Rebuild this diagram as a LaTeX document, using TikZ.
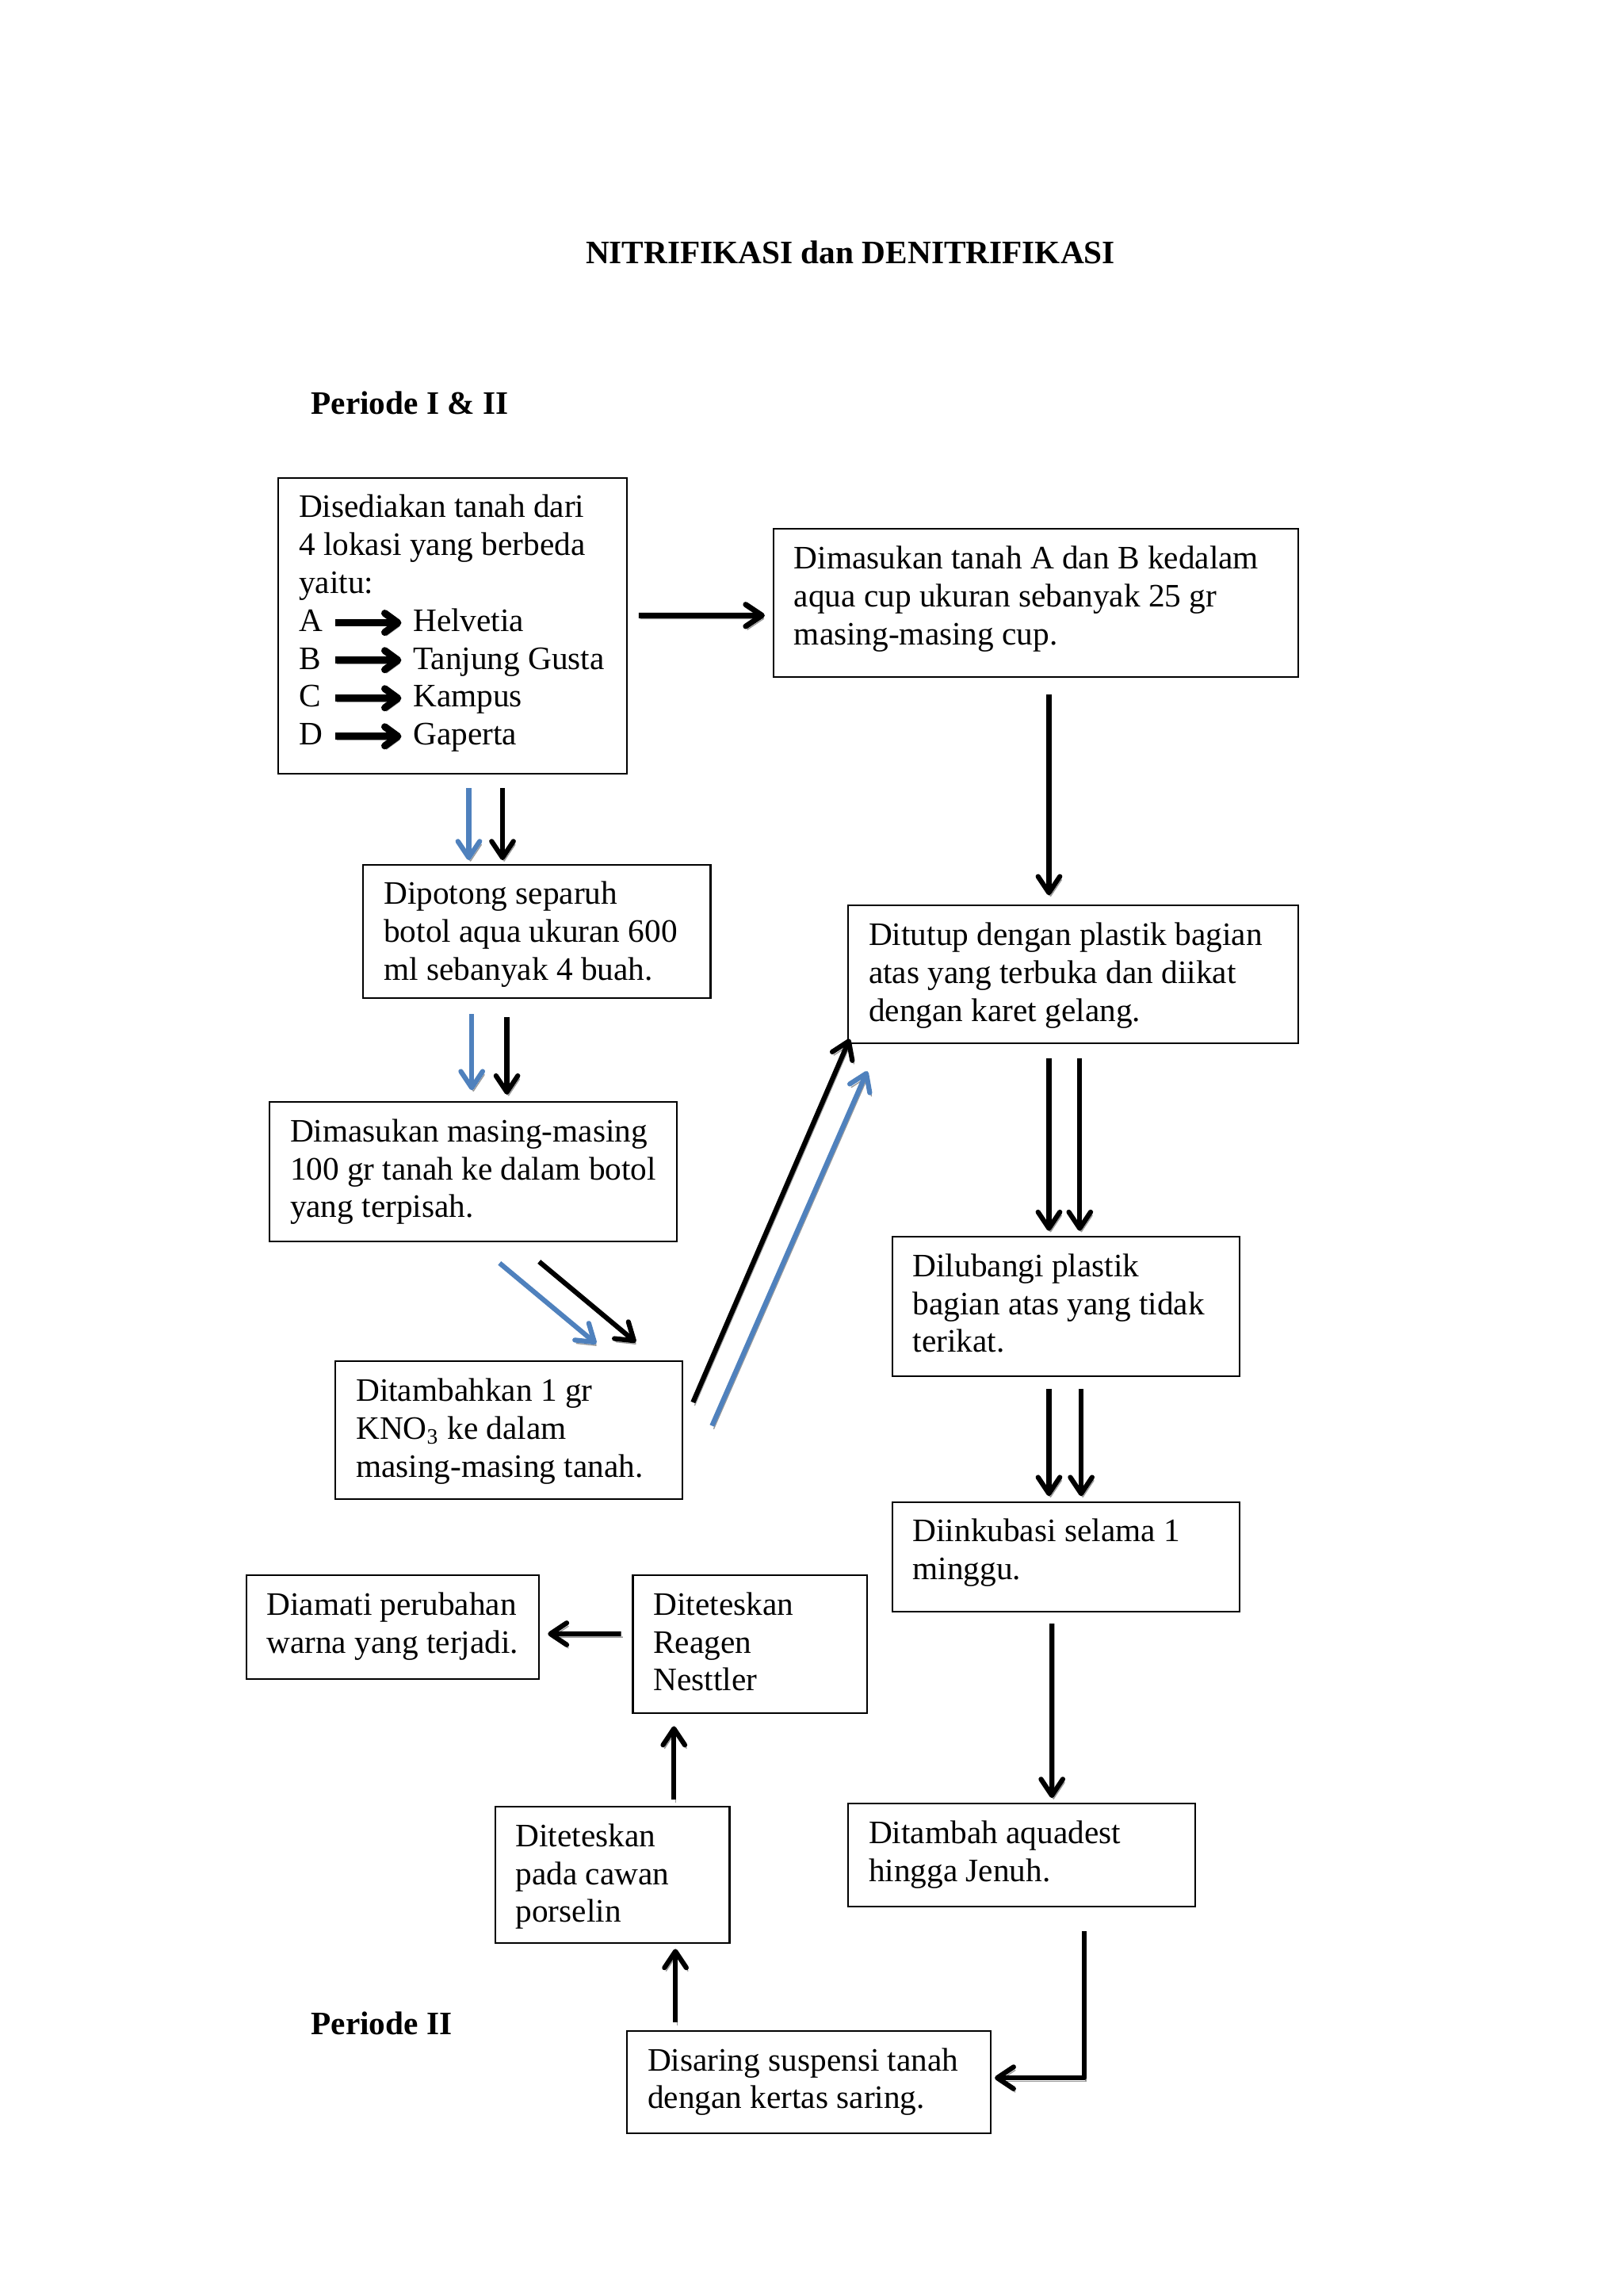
\documentclass[tikz,border=0pt]{standalone}
\usepackage{fontspec}
\setmainfont{Liberation Serif}
\usetikzlibrary{arrows.meta}
\newlength{\pxu}\setlength{\pxu}{0.537pt}
\definecolor{officeblue}{RGB}{79,129,189}
\tikzset{
  fbox/.style={draw=black, line width=0.6pt, inner xsep=7.52pt, inner ysep=0pt, outer sep=0pt,
    font=\fontsize{12}{13.9}\selectfont},
  shad/.style={preaction={draw=black!40, transform canvas={shift={(0.6pt,-1.2pt)}}}},
  ablk/.style={draw=black, line width=1.8pt, line join=round, -{Straight Barb[length=6pt,width=8pt,round]}, shad},
  ablu/.style={ablk, draw=officeblue},
  ainl/.style={draw=black, line width=2.6pt, line join=round, -{Straight Barb[length=4.8pt,width=7pt,round]}, shad},
  lbl/.style={font=\bfseries\fontsize{12}{13.9}\selectfont, inner sep=0pt},
}
\newcommand{\flowbox}[6]{%
  \node[fbox, minimum width={(#4-#2)*0.537pt}, minimum height={(#5-#3)*0.537pt}] (#1) at ({(#2+#4)/2},{(#3+#5)/2})
  {\parbox[c][\dimexpr #5\pxu-#3\pxu\relax][t]{\dimexpr #4\pxu-#2\pxu-15.04pt\relax}{\raggedright\vspace*{9\pxu}\strut #6}};}
\begin{document}
\begin{tikzpicture}[x=0.537pt, y=-0.537pt]
\useasboundingbox[fill=white] (0,0) rectangle (1108,1566.2);

\node[lbl] (title) at (580.5,172) {NITRIFIKASI dan DENITRIFIKASI};
\node[lbl, anchor=west] (per1) at (212,275) {Periode I \& II};
\node[lbl, anchor=west] (per2) at (212,1381) {Periode II};

\flowbox{b1}{190}{326}{428}{528}{Disediakan tanah dari\\4 lokasi yang berbeda\\yaitu:\\\makebox[41.9pt][l]{A}Helvetia\\\makebox[41.9pt][l]{B}Tanjung Gusta\\\makebox[41.9pt][l]{C}Kampus\\\makebox[41.9pt][l]{D}Gaperta}
\flowbox{b2}{528}{361}{886}{462}{Dimasukan tanah A dan B kedalam\\aqua cup ukuran sebanyak 25 gr\\masing-masing cup.}
\flowbox{b3}{248}{590}{485}{681}{Dipotong separuh\\botol aqua ukuran 600\\ml sebanyak 4 buah.}
\flowbox{b4}{184}{752}{462}{847}{Dimasukan masing-masing\\100 gr tanah ke dalam botol\\yang terpisah.}
\flowbox{b5}{229}{929}{466}{1023}{Ditambahkan 1 gr\\KNO\textsubscript{3} ke dalam\\masing-masing tanah.}
\flowbox{b6}{579}{618}{886}{712}{Ditutup dengan plastik bagian\\atas yang terbuka dan diikat\\dengan karet gelang.}
\flowbox{b7}{609}{844}{846}{939}{Dilubangi plastik\\bagian atas yang tidak\\terikat.}
\flowbox{b8}{609}{1025}{846}{1100}{Diinkubasi selama 1\\minggu.}
\flowbox{b9}{579}{1231}{816}{1301}{Ditambah aquadest\\hingga Jenuh.}
\flowbox{b10}{428}{1386}{676}{1456}{Disaring suspensi tanah\\dengan kertas saring.}
\flowbox{b11}{338}{1233}{498}{1326}{Diteteskan\\pada cawan\\porselin}
\flowbox{b12}{432}{1075}{592}{1169}{Diteteskan\\Reagen\\Nesttler}
\flowbox{b13}{168}{1075}{368}{1146}{Diamati perubahan\\warna yang terjadi.}

% inline arrows in box 1
\foreach \yy in {99,124.5,150.5,176.5}
  \draw[ainl] ([shift={(39,\yy)}]b1.north west) -- ([shift={(84,\yy)}]b1.north west);

% connectors
\draw[ablk, line width=2pt] ([shift={(8,-7)}]b1.east) -- ([shift={(-6,8.5)}]b2.west);
\draw[ablu] ([shift={(11,10)}]b1.south) -- ([shift={(-46.5,-3)}]b3.north);
\draw[ablk] ([shift={(34,10)}]b1.south) -- ([shift={(-23.5,-3)}]b3.north);
\draw[ablu] ([shift={(-44.5,11)}]b3.south) -- ([shift={(-1,-8)}]b4.north);
\draw[ablk] ([shift={(-20.5,13)}]b3.south) -- ([shift={(23,-5)}]b4.north);
\draw[ablu] ([shift={(18,15)}]b4.south) -- ([shift={(59.5,-12)}]b5.north);
\draw[ablk] ([shift={(45,14)}]b4.south) -- ([shift={(86.5,-13)}]b5.north);
\draw[ablk] ([shift={(7,-19)}]b5.east) -- ([shift={(1,-3)}]b6.south west);
\draw[ablu] ([shift={(20,-3)}]b5.east) -- ([shift={(13,19)}]b6.south west);
\draw[ablk] ([shift={(9,12)}]b2.south) -- ([shift={(-16.5,-7)}]b6.north);
\draw[ablk] ([shift={(-16.5,10)}]b6.south) -- ([shift={(-11.5,-4)}]b7.north);
\draw[ablk] ([shift={(4.5,10)}]b6.south) -- ([shift={(9.5,-4)}]b7.north);
\draw[ablk] ([shift={(-11.5,9)}]b7.south) -- ([shift={(-11.5,-4)}]b8.north);
\draw[ablk] ([shift={(10.5,9)}]b7.south) -- ([shift={(10.5,-4)}]b8.north);
\draw[ablk] ([shift={(-9.5,8)}]b8.south) -- ([shift={(20.5,-4)}]b9.north);
\draw[ablk] ([shift={(42.5,17)}]b9.south) |- ([shift={(3,-3)}]b10.east);
\draw[ablk] ([shift={(-91,-6)}]b10.north) -- ([shift={(43,4)}]b11.south);
\draw[ablk] ([shift={(42,-5)}]b11.north) -- ([shift={(-52,9)}]b12.south);
\draw[ablk] ([shift={(-8,-7)}]b12.west) -- ([shift={(6,4.5)}]b13.east);
\end{tikzpicture}
\end{document}
